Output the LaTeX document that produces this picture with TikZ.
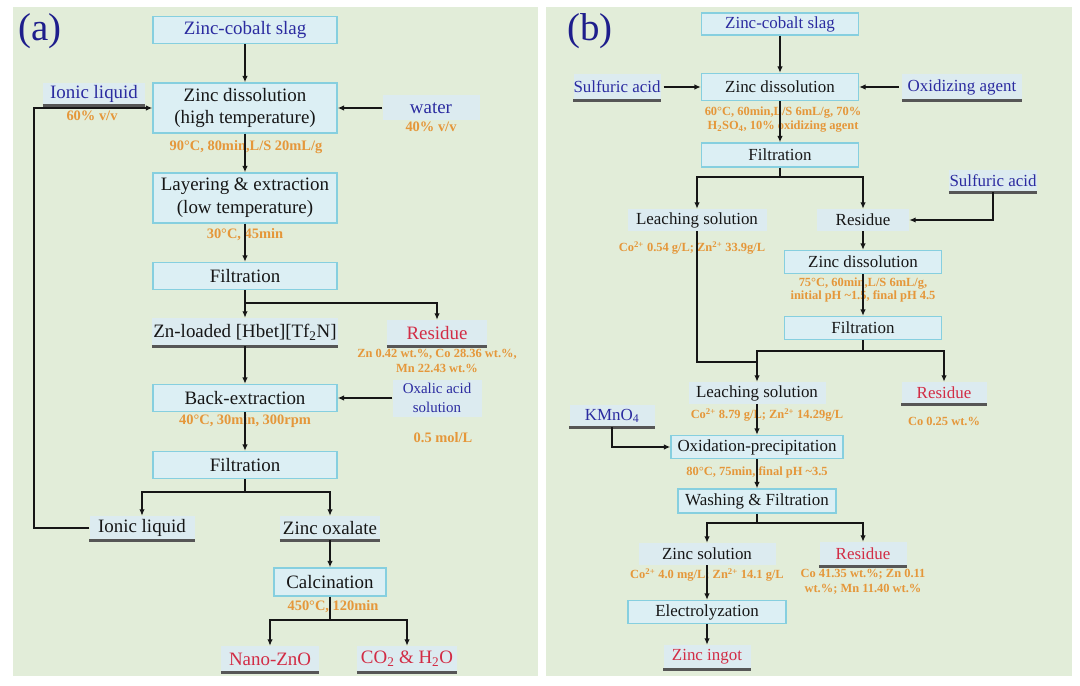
\documentclass[tikz,border=0pt]{standalone}
\usepackage{fontspec}
\setmainfont{Liberation Serif}
\usetikzlibrary{arrows.meta}
\definecolor{bg}{HTML}{E2EDD9}
\definecolor{boxfill}{HTML}{DCEFF4}
\definecolor{boxline}{HTML}{86CFDF}
\definecolor{lblfill}{HTML}{DCEBF0}
\definecolor{tblue}{HTML}{2B2BA0}
\definecolor{tred}{HTML}{D22C45}
\definecolor{torange}{HTML}{E5973A}
\definecolor{tdark}{HTML}{161616}
\definecolor{uline}{HTML}{565656}
\definecolor{plabel}{HTML}{1E1E8C}
\begin{document}
\begin{tikzpicture}[x=1bp,y=-1bp,
 box/.style={draw=boxline,line width=1.3bp,fill=boxfill,inner sep=0pt,align=center,text=tdark,font=\fontsize{19}{23}\selectfont},
 lbl/.style={fill=lblfill,inner sep=0pt,align=center,text=tdark,font=\fontsize{19}{23}\selectfont},
 fb/.style={font=\fontsize{17}{19}\selectfont},
 cnd/.style={text=torange,inner sep=0pt,align=center,font=\bfseries\fontsize{14.5}{16}\selectfont},
 cnds/.style={text=torange,inner sep=0pt,align=center,font=\bfseries\fontsize{12.5}{14.5}\selectfont},
 arr/.style={-{Latex[length=6.5bp,width=5.5bp]},line width=1.3bp,draw=tdark},
 ln/.style={line width=1.3bp,draw=tdark},
 ul/.style={draw=uline,line width=3bp},
 sz/.style 2 args={minimum width=#1bp,minimum height=#2bp}]
\useasboundingbox (0,0) rectangle (1080,686);
\fill[white] (0,0) rectangle (1080,686);
\fill[bg] (13,7) rectangle (538,676);
\fill[bg] (546,7) rectangle (1072,676);

% ================= panel (a) =================
\node[text=plabel,font=\fontsize{39}{40}\selectfont,inner sep=0pt] (pa) at (40,31) {(a)};
\node[box,sz={184}{27},text=tblue] (slag) at (245,30) {Zinc-cobalt slag};
\node[box,sz={184}{50}] (zd1) at (245,108) {Zinc dissolution\\(high temperature)};
\node[lbl,sz={102}{22},text=tblue] (il1) at (94,94) {Ionic liquid};
\node[cnd] (c60) at (92,116) {60\% v/v};
\node[lbl,sz={97}{25},text=tblue] (water) at (431,108) {water};
\node[cnd] (c40) at (431,127) {40\% v/v};
\node[cnd] (c1) at (246,147) {90°C, 80min,L/S 20mL/g};
\node[box,sz={184}{50}] (layer) at (245,198) {Layering \& extraction\\(low temperature)};
\node[cnd] (c2) at (245,235) {30°C, 45min};
\node[box,sz={184}{27}] (filt1) at (245,276) {Filtration};
\node[lbl,sz={186}{28}] (znl) at (245,332) {Zn-loaded [Hbet][Tf\textsubscript{2}N]};
\node[lbl,sz={100}{26},text=tred] (res1) at (437,333) {Residue};
\node[cnds,font=\bfseries\fontsize{12.5}{15}\selectfont] (rc1) at (437,361) {Zn 0.42 wt.\%, Co 28.36 wt.\%,\\Mn 22.43 wt.\%};
\node[box,sz={184}{27}] (back) at (245,398) {Back-extraction};
\node[lbl,sz={89}{37},text=tblue,font=\fontsize{15}{19}\selectfont] (oxal) at (437,398) {Oxalic acid\\solution};
\node[cnd] (c05) at (443,438) {0.5 mol/L};
\node[cnd] (c3) at (245,421) {40°C, 30min, 300rpm};
\node[box,sz={184}{27}] (filt2) at (245,465) {Filtration};
\node[lbl,sz={105}{24}] (il2) at (142,528) {Ionic liquid};
\node[lbl,sz={100}{24}] (zox) at (330,528) {Zinc oxalate};
\node[box,sz={112}{28}] (calc) at (330,582) {Calcination};
\node[cnd] (c4) at (333,607) {450°C, 120min};
\node[lbl,sz={98}{26},text=tred] (nano) at (270,659) {Nano-ZnO};
\node[lbl,sz={100}{26},text=tred] (co2) at (407,659) {CO\textsubscript{2} \& H\textsubscript{2}O};

\foreach \n in {il1,znl,res1,il2,zox,nano,co2} \draw[ul] (\n.south west) -- (\n.south east);

\coordinate (ja) at (245,303);
\coordinate (jb) at (245,492);
\coordinate (jc) at (330,620);
\coordinate (loopb) at (34,528);
\coordinate (loopt) at (34,108);

\draw[arr] (slag) -- (zd1);
\draw[arr] (water) -- (zd1);
\draw[arr] (il2.west) -- (loopb) -- (loopt) -- (zd1.west);
\draw[arr] (zd1) -- (layer);
\draw[arr] (layer) -- (filt1);
\draw[ln] (filt1.south) -- (ja);
\draw[arr] (ja) -- (znl.north);
\draw[arr] (ja) -| (res1.north);
\draw[arr] (znl.south) -- (back.north);
\draw[arr] (oxal.west) -- (back.east);
\draw[arr] (back) -- (filt2);
\draw[ln] (filt2.south) -- (jb);
\draw[arr] (jb) -| (il2.north);
\draw[arr] (jb) -| (zox.north);
\draw[arr] (zox.south) -- (calc.north);
\draw[ln] (calc.south) -- (jc);
\draw[arr] (jc) -| (nano.north);
\draw[arr] (jc) -| (co2.north);

% ================= panel (b) =================
\node[text=plabel,font=\fontsize{39}{40}\selectfont,inner sep=0pt] (pb) at (590,31) {(b)};
\node[box,fb,sz={157}{22},text=tblue] (slag2) at (780,24) {Zinc-cobalt slag};
\node[box,fb,sz={157}{27}] (zd2) at (780,87) {Zinc dissolution};
\node[lbl,fb,sz={87}{26},text=tblue] (sa1) at (617,87) {Sulfuric acid};
\node[lbl,fb,sz={120}{26},text=tblue] (ox) at (962,87) {Oxidizing agent};
\node[cnds,font=\bfseries\fontsize{12.5}{14}\selectfont] (c5) at (783,120) {60°C, 60min,L/S 6mL/g, 70\%\\H\textsubscript{2}SO\textsubscript{4}, 10\% oxidizing agent};
\node[box,fb,sz={157}{24}] (filt3) at (780,155) {Filtration};
\node[lbl,fb,sz={139}{22}] (leach1) at (697,220) {Leaching solution};
\node[cnds] (c6) at (692,248) {Co\textsuperscript{2+} 0.54 g/L; Zn\textsuperscript{2+} 33.9g/L};
\node[lbl,fb,sz={92}{22}] (res2) at (863,220) {Residue};
\node[lbl,fb,sz={88}{22},text=tblue] (sa2) at (993,181) {Sulfuric acid};
\node[box,fb,sz={157}{23}] (zd3) at (863,262) {Zinc dissolution};
\node[cnds,font=\bfseries\fontsize{12.5}{14}\selectfont] (c7) at (863,290) {75°C, 60min,L/S 6mL/g,\\initial pH \textasciitilde1.5, final pH 4.5};
\node[box,fb,sz={157}{23}] (filt4) at (863,328) {Filtration};
\node[lbl,fb,sz={137}{22}] (leach2) at (757,393) {Leaching solution};
\node[cnds] (c8) at (767,415) {Co\textsuperscript{2+} 8.79 g/L; Zn\textsuperscript{2+} 14.29g/L};
\node[lbl,fb,sz={85}{22},text=tred] (res3) at (944,393) {Residue};
\node[cnds] (c9) at (944,421) {Co 0.25 wt.\%};
\node[lbl,fb,sz={85}{22},text=tblue] (kmn) at (612,416) {KMnO\textsubscript{4}};
\node[box,fb,sz={172}{23}] (oxp) at (757,447) {Oxidation-precipitation};
\node[cnds] (c10) at (757,472) {80°C, 75min, final pH \textasciitilde3.5};
\node[box,fb,sz={158}{24}] (wash) at (757,501) {Washing \& Filtration};
\node[lbl,fb,sz={137}{22}] (zsol) at (707,554) {Zinc solution};
\node[cnds] (c11) at (707,575) {Co\textsuperscript{2+} 4.0 mg/L; Zn\textsuperscript{2+} 14.1 g/L};
\node[lbl,fb,sz={87}{24},text=tred] (res4) at (863,554) {Residue};
\node[cnds,font=\bfseries\fontsize{12.5}{15}\selectfont] (c12) at (863,582) {Co 41.35 wt.\%; Zn 0.11\\wt.\%; Mn 11.40 wt.\%};
\node[box,fb,sz={158}{23}] (elec) at (707,612) {Electrolyzation};
\node[lbl,fb,sz={87}{24},text=tred] (ingot) at (707,657) {Zinc ingot};

\foreach \n in {sa1,ox,sa2,res3,kmn,res4,ingot} \draw[ul] (\n.south west) -- (\n.south east);

\coordinate (jd) at (780,177);
\coordinate (je) at (863,351);
\coordinate (jf) at (697,362);
\coordinate (jg) at (757,523);
\coordinate (sak) at (993,220);
\coordinate (kk) at (612,447);

\draw[arr] (slag2) -- (zd2);
\draw[arr,shorten <=3bp] (sa1.east) -- (zd2.west);
\draw[arr,shorten <=3bp] (ox.west) -- (zd2.east);
\draw[arr] (zd2.south) -- (filt3.north);
\draw[ln] (filt3.south) -- (jd);
\draw[arr] (jd) -| (leach1.north);
\draw[arr] (jd) -| (res2.north);
\draw[arr] (sa2.south) -- (sak) -- (res2.east);
\draw[arr] (res2.south) -- (zd3.north);
\draw[arr] (zd3.south) -- (filt4.north);
\draw[ln] (filt4.south) -- (je);
\draw[arr] (je) -| (leach2.north);
\draw[arr] (je) -| (res3.north);
\draw[ln] (leach1.south) -- (jf) -- (jf -| leach2.north);
\draw[arr] (kmn.south) -- (kk) -- (oxp.west);
\draw[arr] (leach2.south) -- (oxp.north);
\draw[arr] (oxp.south) -- (wash.north);
\draw[ln] (wash.south) -- (jg);
\draw[arr] (jg) -| (zsol.north);
\draw[arr] (jg) -| (res4.north);
\draw[arr] (zsol.south) -- (elec.north);
\draw[arr] (elec.south) -- (ingot.north);
\end{tikzpicture}
\end{document}
